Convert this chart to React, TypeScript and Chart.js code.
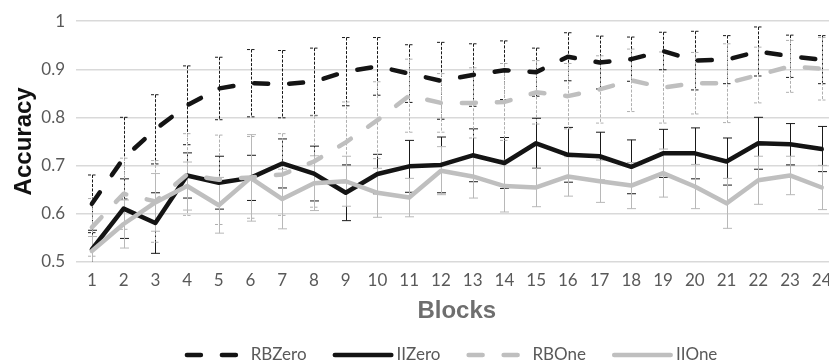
import React, { useEffect, useRef } from 'react';
import { Chart, registerables } from 'chart.js';

Chart.register(...registerables);

const blocks = ['1', '2', '3', '4', '5', '6', '7', '8', '9', '10', '11', '12', '13', '14', '15', '16', '17', '18', '19', '20', '21', '22', '23', '24'];

const rbZero = [0.62, 0.715, 0.775, 0.825, 0.86, 0.871, 0.869, 0.874, 0.895, 0.906, 0.891, 0.876, 0.888, 0.898, 0.894, 0.926, 0.914, 0.921, 0.938, 0.918, 0.92, 0.937, 0.927, 0.92];
const rbZeroErr = [0.06, 0.085, 0.072, 0.082, 0.065, 0.07, 0.07, 0.07, 0.071, 0.06, 0.06, 0.08, 0.065, 0.061, 0.05, 0.05, 0.055, 0.046, 0.039, 0.061, 0.05, 0.051, 0.044, 0.05];

const iiZero = [0.525, 0.61, 0.58, 0.679, 0.664, 0.674, 0.704, 0.683, 0.643, 0.682, 0.698, 0.701, 0.721, 0.705, 0.746, 0.722, 0.719, 0.697, 0.725, 0.725, 0.708, 0.746, 0.744, 0.734];
const iiZeroErr = [0.04, 0.062, 0.063, 0.047, 0.055, 0.047, 0.051, 0.057, 0.058, 0.041, 0.054, 0.058, 0.055, 0.053, 0.052, 0.057, 0.05, 0.056, 0.05, 0.053, 0.049, 0.054, 0.043, 0.047];

const rbOne = [0.571, 0.641, 0.625, 0.681, 0.67, 0.675, 0.681, 0.708, 0.748, 0.794, 0.845, 0.83, 0.83, 0.832, 0.852, 0.844, 0.858, 0.877, 0.862, 0.871, 0.871, 0.888, 0.906, 0.901];
const rbOneErr = [0.06, 0.074, 0.085, 0.085, 0.093, 0.085, 0.085, 0.095, 0.084, 0.08, 0.076, 0.061, 0.073, 0.08, 0.066, 0.068, 0.07, 0.065, 0.074, 0.064, 0.082, 0.058, 0.054, 0.065];

const iiOne = [0.522, 0.578, 0.623, 0.657, 0.617, 0.674, 0.63, 0.663, 0.667, 0.643, 0.633, 0.689, 0.677, 0.657, 0.654, 0.677, 0.667, 0.658, 0.684, 0.656, 0.621, 0.669, 0.679, 0.654];
const iiOneErr = [0.03, 0.05, 0.06, 0.05, 0.058, 0.09, 0.062, 0.057, 0.052, 0.051, 0.04, 0.05, 0.045, 0.054, 0.04, 0.041, 0.044, 0.048, 0.05, 0.046, 0.052, 0.05, 0.04, 0.046];

const yTicks = [0.5, 0.6, 0.7, 0.8, 0.9, 1];

const BLACK = '#141414';
const GRAY = '#bfbfbf';
const TEXT = '#595959';
const LINE_DASH = [14, 21];

const errorBarPlugin = {
  id: 'errorBars',
  beforeDatasetsDraw(chart: any) {
    const { ctx, chartArea, scales } = chart;
    const xs = scales.x;
    const ys = scales.y;
    ctx.save();
    ctx.beginPath();
    ctx.rect(chartArea.left, chartArea.top - 1, chartArea.right - chartArea.left, chartArea.bottom - chartArea.top + 1);
    ctx.clip();
    chart.data.datasets.forEach((ds: any) => {
      const errs = ds.errorBars;
      if (!errs) return;
      ctx.strokeStyle = ds.errorColor;
      ctx.lineWidth = ds.errorWidth;
      ctx.setLineDash(ds.errorDash || []);
      ctx.lineCap = 'butt';
      ds.data.forEach((v: number, i: number) => {
        const px = Math.round(xs.getPixelForValue(i)) + 0.5;
        const top = ys.getPixelForValue(v + errs[i]);
        const bot = ys.getPixelForValue(v - errs[i]);
        const cw = 4.5;
        ctx.beginPath();
        ctx.moveTo(px, top);
        ctx.lineTo(px, bot);
        ctx.moveTo(px - cw, top);
        ctx.lineTo(px + cw, top);
        ctx.moveTo(px - cw, bot);
        ctx.lineTo(px + cw, bot);
        ctx.stroke();
      });
    });
    ctx.restore();
  },
};

const legendPlugin = {
  id: 'customLegend',
  afterDraw(chart: any) {
    const { ctx } = chart;
    const font = '17px Lato';
    ctx.save();
    ctx.font = font;
    const items = chart.data.datasets.map((ds: any) => {
      const dashed = !!(ds.borderDash && ds.borderDash.length);
      const lineLen = dashed ? 55 : 61;
      const textGap = dashed ? 11 : 3;
      const tw = ctx.measureText(ds.label).width;
      return { ds, dashed, lineLen, textGap, tw, w: lineLen + textGap + tw };
    });
    const gap = 26;
    const total = items.reduce((s: number, it: any) => s + it.w, 0) + gap * (items.length - 1);
    let x = 451 - total / 2;
    const lineY = 355;
    const baseY = 359.5;
    items.forEach((it: any) => {
      const ds = it.ds;
      ctx.strokeStyle = ds.borderColor;
      ctx.lineWidth = ds.borderWidth;
      ctx.lineCap = 'round';
      ctx.setLineDash(ds.borderDash || []);
      ctx.beginPath();
      const hw = ds.borderWidth / 2;
      ctx.moveTo(x + hw, lineY);
      ctx.lineTo(x + it.lineLen - hw, lineY);
      ctx.stroke();
      ctx.setLineDash([]);
      ctx.fillStyle = TEXT;
      ctx.textBaseline = 'alphabetic';
      ctx.textAlign = 'left';
      ctx.fillText(ds.label, x + it.lineLen + it.textGap, baseY);
      x += it.w + gap;
    });
    ctx.restore();
  },
};

export default function App() {
  const canvasRef = useRef<HTMLCanvasElement | null>(null);

  useEffect(() => {
    const canvas = canvasRef.current;
    if (!canvas) return;
    const lineCommon = {
      borderWidth: 4.5,
      borderCapStyle: 'round',
      borderJoinStyle: 'round',
      pointRadius: 0,
      pointHoverRadius: 0,
      fill: false,
      tension: 0,
    };
    const chart = new Chart(canvas, {
      type: 'line',
      data: {
        labels: blocks,
        datasets: [
          {
            ...lineCommon,
            label: 'RBZero',
            data: rbZero,
            borderColor: BLACK,
            backgroundColor: BLACK,
            borderDash: LINE_DASH,
            order: 4,
            errorBars: rbZeroErr,
            errorColor: '#1a1a1a',
            errorWidth: 1,
            errorDash: [3, 1.5],
          } as any,
          {
            ...lineCommon,
            label: 'IIZero',
            data: iiZero,
            borderColor: BLACK,
            backgroundColor: BLACK,
            order: 3,
            errorBars: iiZeroErr,
            errorColor: '#1a1a1a',
            errorWidth: 1,
            errorDash: [],
          } as any,
          {
            ...lineCommon,
            label: 'RBOne',
            data: rbOne,
            borderColor: GRAY,
            backgroundColor: GRAY,
            borderDash: LINE_DASH,
            order: 2,
            errorBars: rbOneErr,
            errorColor: '#b0b0b0',
            errorWidth: 1,
            errorDash: [3, 1.5],
          } as any,
          {
            ...lineCommon,
            label: 'IIOne',
            data: iiOne,
            borderColor: GRAY,
            backgroundColor: GRAY,
            order: 1,
            errorBars: iiOneErr,
            errorColor: '#b8b8b8',
            errorWidth: 1,
            errorDash: [],
          } as any,
        ],
      },
      options: {
        responsive: false,
        animation: false,
        devicePixelRatio: 1,
        layout: { padding: { left: 0, top: 18, right: 8.4, bottom: 0 } },
        plugins: {
          legend: { display: false },
          tooltip: { enabled: false },
        },
        scales: {
          x: {
            type: 'category',
            offset: true,
            grid: { display: false, drawTicks: false },
            border: { display: false },
            ticks: {
              color: TEXT,
              font: { family: 'Lato', size: 17 },
              padding: 9,
              maxRotation: 0,
              autoSkip: false,
            },
            title: {
              display: true,
              text: 'Blocks',
              color: '#6e6e6e',
              font: { family: 'Liberation Sans', size: 24, weight: 'bold' },
              padding: { top: 0, bottom: 36.6 },
            },
            afterFit: (s: any) => {
              s.height = 100.5;
            },
          },
          y: {
            min: yTicks[0],
            max: yTicks[yTicks.length - 1],
            afterBuildTicks: (s: any) => {
              s.ticks = yTicks.map((v) => ({ value: v }));
            },
            grid: { color: '#d9d9d9', lineWidth: 1.5, drawTicks: false },
            border: { display: false },
            ticks: {
              color: TEXT,
              font: { family: 'Lato', size: 17 },
              padding: 11,
              callback: (v: any) => String(Number(Number(v).toFixed(1))),
            },
            title: {
              display: true,
              text: 'Accuracy',
              color: '#111111',
              font: { family: 'Liberation Sans', size: 24, weight: 'bold' },
              padding: { top: 9.6, bottom: 0 },
            },
            afterFit: (s: any) => {
              s.width = 76;
            },
          },
        },
      } as any,
      plugins: [errorBarPlugin, legendPlugin],
    });
    return () => chart.destroy();
  }, []);

  return (
    <div
      style={{
        position: 'fixed',
        left: 0,
        top: 0,
        width: 829,
        height: 362,
        overflow: 'hidden',
        background: '#ffffff',
      }}
    >
      <canvas ref={canvasRef} width={846} height={362} style={{ display: 'block' }} />
    </div>
  );
}
